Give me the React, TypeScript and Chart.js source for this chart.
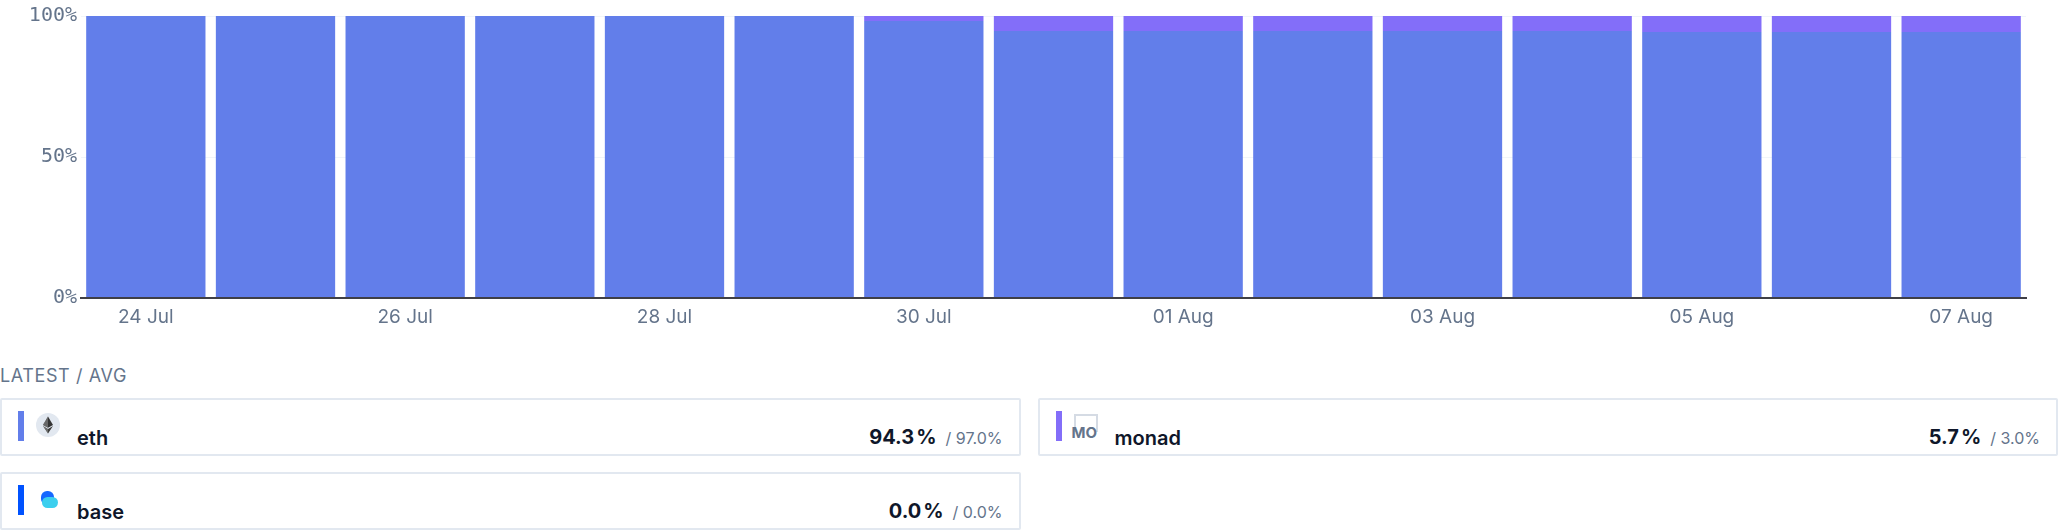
import { useEffect, useRef } from 'react';
import { Chart, registerables } from 'chart.js';

Chart.register(...registerables);

const DATES = [
  '24 Jul', '25 Jul', '26 Jul', '27 Jul', '28 Jul', '29 Jul', '30 Jul', '31 Jul',
  '01 Aug', '02 Aug', '03 Aug', '04 Aug', '05 Aug', '06 Aug', '07 Aug',
];
const ETH_SHARE = [100, 100, 100, 100, 100, 100, 98.2, 94.7, 94.7, 94.7, 94.7, 94.7, 94.3, 94.3, 94.3];
const BASE_SHARE = [0, 0, 0, 0, 0, 0, 0, 0, 0, 0, 0, 0, 0, 0, 0];
const MONAD_SHARE = [0, 0, 0, 0, 0, 0, 1.8, 5.3, 5.3, 5.3, 5.3, 5.3, 5.7, 5.7, 5.7];

const ETH_COLOR = '#627EEA';
const BASE_COLOR = '#0052FF';
const MONAD_COLOR = '#836EF9';

const latest = (arr: number[]) => arr[arr.length - 1];
const avg = (arr: number[]) => arr.reduce((a, b) => a + b, 0) / arr.length;

function EthIcon() {
  return (
    <svg width="24" height="24" viewBox="0 0 24 24">
      <circle cx="12" cy="12" r="12" fill="#e2e8f0" />
      <polygon points="12,3.5 17,12 12,14.8 7,12" fill="#343434" />
      <polygon points="12,3.5 12,14.8 7,12" fill="#8c8c8c" opacity="0.6" />
      <polygon points="12,15.9 17,13 12,20.5 7,13" fill="#3c3c3b" />
      <polygon points="12,15.9 12,20.5 7,13" fill="#8c8c8c" opacity="0.6" />
    </svg>
  );
}

function BaseIcon() {
  return (
    <svg width="24" height="24" viewBox="0 0 24 24">
      <rect x="5" y="4" width="13" height="14" rx="6" fill="#1668ff" />
      <rect x="6" y="10" width="16" height="11" rx="5.5" fill="#3ccfee" />
    </svg>
  );
}

function MonadIcon() {
  return (
    <div style={{ position: 'relative', width: 28, height: 28 }}>
      <div style={{ position: 'absolute', left: 0, top: 1, width: 20, height: 16, border: '2px solid #d5dbe4', borderBottom: 'none' }} />
      <div style={{ position: 'absolute', left: -2, top: 12, fontSize: 15, fontWeight: 700, color: '#64748b', lineHeight: '16px' }}>MO</div>
    </div>
  );
}

function LegendCard({ name, color, icon, values }: { name: string; color: string; icon: any; values: number[] }) {
  return (
    <div style={{ position: 'relative', height: 58, boxSizing: 'border-box', border: '2px solid #e2e8f0', borderRadius: 2, background: '#fff' }}>
      <div style={{ position: 'absolute', left: 16, top: 11, width: 6, height: 30, background: color }} />
      <div style={{ position: 'absolute', left: 34, top: 13 }}>{icon}</div>
      <div style={{ position: 'absolute', left: 75, bottom: 6, fontSize: 20, lineHeight: '20px', fontWeight: 600, color: '#0f172a' }}>{name}</div>
      <div style={{ position: 'absolute', right: 16, bottom: 6, lineHeight: '20px', whiteSpace: 'nowrap' }}>
        <span style={{ fontSize: 20, fontWeight: 700, color: '#0f172a' }}>
          {latest(values).toFixed(1)}
          <span style={{ marginLeft: 2 }}>%</span>
        </span>
        <span style={{ fontSize: 16, color: '#64748b', marginLeft: 9 }}>/ {avg(values).toFixed(1)}%</span>
      </div>
    </div>
  );
}

export default function App() {
  const chartRef = useRef<HTMLCanvasElement>(null);

  useEffect(() => {
    document.body.style.margin = '0';
    if (!chartRef.current) return;

    const chart = new Chart(chartRef.current, {
      type: 'bar',
      data: {
        labels: DATES,
        datasets: [
          { label: 'eth', data: ETH_SHARE, backgroundColor: ETH_COLOR, stack: 'share' },
          { label: 'base', data: BASE_SHARE, backgroundColor: BASE_COLOR, stack: 'share' },
          { label: 'monad', data: MONAD_SHARE, backgroundColor: MONAD_COLOR, stack: 'share' },
        ],
      },
      options: {
        animation: false,
        responsive: true,
        maintainAspectRatio: false,
        layout: { padding: { top: 16, right: 32, left: 0, bottom: 0 } },
        datasets: { bar: { categoryPercentage: 1, barPercentage: 0.92, borderWidth: 0 } },
        plugins: {
          legend: { display: false },
          tooltip: { enabled: false },
        },
        scales: {
          x: {
            stacked: true,
            grid: { display: false },
            border: { display: true, color: '#3f3f46', width: 2, z: 1 },
            ticks: {
              autoSkip: false,
              maxRotation: 0,
              padding: 0,
              color: '#64748b',
              font: { family: 'Inter', size: 19 },
              callback: (_v, i) => (i % 2 === 0 ? DATES[i] : ''),
            },
            afterFit: (scale) => {
              scale.height = 32;
            },
          },
          y: {
            stacked: true,
            min: 0,
            max: 100,
            grid: { color: '#f1f5f9', drawTicks: false },
            border: { display: false },
            ticks: {
              stepSize: 50,
              padding: 4,
              color: '#64748b',
              font: { family: 'DejaVu Sans Mono', size: 20 },
              callback: (v) => v + '%',
            },
            afterFit: (scale) => {
              scale.width = 81;
            },
          },
        },
      },
    });

    return () => chart.destroy();
  }, []);

  return (
    <div style={{ width: 2058, fontFamily: 'Inter, sans-serif' }}>
      <div style={{ position: 'relative', height: 330 }}>
        <canvas ref={chartRef}></canvas>
      </div>
      <div style={{ marginTop: 36, height: 20, lineHeight: '20px', fontSize: 18, color: '#64748b', letterSpacing: 0.6 }}>
        LATEST / AVG
      </div>
      <div style={{ marginTop: 12, display: 'grid', gridTemplateColumns: '1fr 1fr', columnGap: 17, rowGap: 16 }}>
        <LegendCard name="eth" color={ETH_COLOR} icon={<EthIcon />} values={ETH_SHARE} />
        <LegendCard name="monad" color={MONAD_COLOR} icon={<MonadIcon />} values={MONAD_SHARE} />
        <LegendCard name="base" color={BASE_COLOR} icon={<BaseIcon />} values={BASE_SHARE} />
      </div>
    </div>
  );
}
